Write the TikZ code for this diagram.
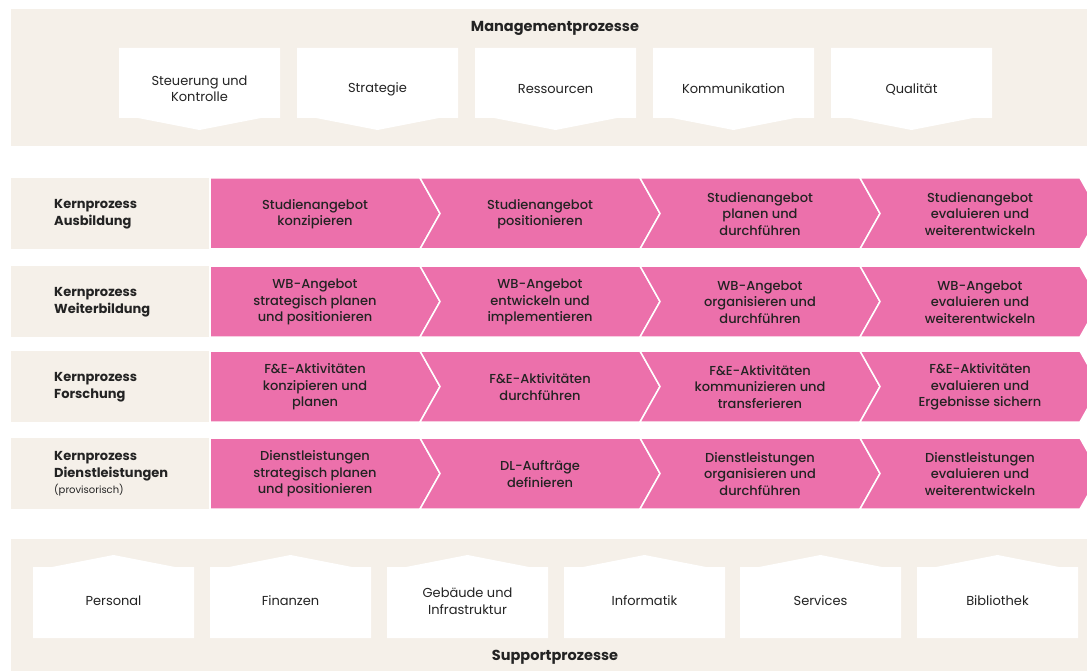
\documentclass[tikz,border=0pt]{standalone}
\usepackage{fontspec}
\setmainfont{Poppins}
\newfontfamily\medfont{Poppins Medium}

\definecolor{beige}{RGB}{245,240,233}
\definecolor{prozesspink}{RGB}{236,112,171}
\definecolor{textdark}{RGB}{35,35,35}

\tikzset{
  title/.style={font=\fontsize{14.5}{17}\selectfont\bfseries, text=textdark},
  boxtext/.style={align=center, font=\fontsize{13}{16.5}\selectfont, text=textdark},
  kerntext/.style={align=center, font=\medfont\fontsize{13}{16.5}\selectfont, text=textdark},
  kopftext/.style={align=left, anchor=west, inner sep=0pt, font=\fontsize{13}{16.5}\selectfont\bfseries, text=textdark}
}

\begin{document}
\begin{tikzpicture}[x=1pt,y=-1pt]
  \useasboundingbox (0,0) rectangle (1087,671);
  \clip (0,0) rectangle (1087,671);

  % Managementprozesse
  \fill[beige] (11,9) rectangle (1087,146);
  \node[title] (mgmt) at (555,28) {Managementprozesse};
  \foreach \x/\name/\txt in {119/steuerung/{Steuerung und\\Kontrolle},
      297/strategie/Strategie, 475/ressourcen/Ressourcen,
      653/kommunikation/Kommunikation, 831/qualitaet/Qualität} {
    \fill[white] (\x,48) -- (\x+161,48) -- (\x+161,118) -- (\x+142,118)
      -- (\x+80.5,130) -- (\x+19,118) -- (\x,118) -- cycle;
    \node[boxtext] (\name) at (\x+80.5,89) {\txt};
  }

  % Kernprozesse
  \foreach \y/\row/\kopf/\a/\b/\c/\d in {
      178/aus/{Kernprozess\\Ausbildung}/{Studienangebot\\konzipieren}/{Studienangebot\\positionieren}/{Studienangebot\\planen und\\durchführen}/{Studienangebot\\evaluieren und\\weiterentwickeln},
      266/wb/{Kernprozess\\Weiterbildung}/{WB-Angebot\\strategisch planen\\und positionieren}/{WB-Angebot\\entwickeln und\\implementieren}/{WB-Angebot\\organisieren und\\durchführen}/{WB-Angebot\\evaluieren und\\weiterentwickeln},
      351/fe/{Kernprozess\\Forschung}/{F\&E-Aktivitäten\\konzipieren und\\planen}/{F\&E-Aktivitäten\\durchführen}/{F\&E-Aktivitäten\\kommunizieren und\\transferieren}/{F\&E-Aktivitäten\\evaluieren und\\Ergebnisse sichern},
      438/dl/{Kernprozess\\Dienstleistungen\\{\mdseries\fontsize{10}{13}\selectfont(provisorisch)}}/{Dienstleistungen\\strategisch planen\\und positionieren}/{DL-Aufträge\\definieren}/{Dienstleistungen\\organisieren und\\durchführen}/{Dienstleistungen\\evaluieren und\\weiterentwickeln}} {
    \fill[beige] (11,\y) rectangle (209,\y+71);
    \node[kopftext] (\row-kopf) at (54,\y+36) {\kopf};
    \foreach \i in {0,...,3} {
      \pgfmathsetmacro\R{420+220*\i}
      \pgfmathsetmacro\L{\i==0 ? 210 : \R-220}
      \pgfmathsetmacro\n{\i==0 ? 0 : 20}
      \filldraw[prozesspink, draw=white, line width=1.5pt]
        (\L,\y) -- (\R,\y) -- (\R+20,\y+35.5) -- (\R,\y+71)
        -- (\L,\y+71) -- (\L+\n,\y+35.5) -- cycle;
    }
    \node[kerntext] (\row-1) at (315,\y+36) {\a};
    \node[kerntext] (\row-2) at (540,\y+36) {\b};
    \node[kerntext] (\row-3) at (760,\y+36) {\c};
    \node[kerntext] (\row-4) at (980,\y+36) {\d};
  }

  % Supportprozesse
  \fill[beige] (11,539) rectangle (1087,671);
  \foreach \x/\name/\txt in {33/personal/Personal, 210/finanzen/Finanzen,
      387/gebaeude/{Gebäude und\\Infrastruktur}, 564/informatik/Informatik,
      740/services/Services, 917/bibliothek/Bibliothek} {
    \fill[white] (\x,567) -- (\x+19,567) -- (\x+80.5,555) -- (\x+142,567)
      -- (\x+161,567) -- (\x+161,638) -- (\x,638) -- cycle;
    \node[boxtext] (\name) at (\x+80.5,601) {\txt};
  }
  \node[title] (support) at (555,657) {Supportprozesse};
\end{tikzpicture}
\end{document}
